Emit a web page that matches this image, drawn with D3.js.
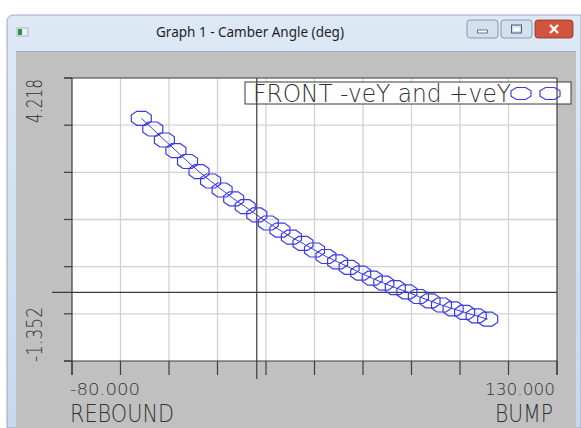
<!DOCTYPE html>
<html lang="en">
<head>
    <meta charset="UTF-8">
    <title>Graph 1 - Camber Angle (deg)</title>
    <script src="https://d3js.org/d3.v7.min.js"></script>
    <style>
        body, html {
          margin: 0;
          padding: 0;
          width: 100%;
          height: 100%;
          overflow: hidden;
          background: #fff;
        }
        svg {
          display: block;
        }
        .lbl {
          font-family: "DejaVu Sans", sans-serif;
          font-weight: 300;
          fill: #333;
        }
    </style>
</head>
<body>
<svg></svg>
<script>
    // wheel travel (mm) and camber angle (deg)
    const travel = [-50, -45, -40, -35, -30, -25, -20, -15, -10, -5, 0, 5, 10, 15, 20, 25,
                    30, 35, 40, 45, 50, 55, 60, 65, 70, 75, 80, 85, 90, 95, 100];
    const camber = [3.425, 3.214, 2.998, 2.787, 2.575, 2.374, 2.191, 2.014, 1.840, 1.685, 1.524,
                    1.365, 1.224, 1.085, 0.962, 0.833, 0.704, 0.598, 0.492, 0.378, 0.278,
                    0.180, 0.090, 0.010, -0.082, -0.168, -0.250, -0.325, -0.395, -0.462, -0.528];

    const xDomain = [-80, 130];
    const yDomain = [-1.352, 4.218];
    const xEndLabels = ["-80.000", "130.000"];
    const yEndLabels = ["4.218", "-1.352"];
    const xTitles = ["REBOUND", "BUMP"];
    const legendText = "FRONT -veY and +veY";
    const windowTitle = "Graph 1 - Camber Angle (deg)";

    const width = 581, height = 428;
    const svg = d3.select("svg").attr("width", width).attr("height", height);

    // ---- window chrome ----
    const grad = svg.append("defs").append("linearGradient")
      .attr("id", "tb").attr("x1", 0).attr("y1", 0).attr("x2", 0).attr("y2", 1);
    grad.append("stop").attr("offset", "0%").attr("stop-color", "#dde9f5");
    grad.append("stop").attr("offset", "100%").attr("stop-color", "#c6d9ee");

    svg.append("path")
      .attr("d", "M7,428 L7,22 Q7,15 14,15 L581,15 L581,428 Z")
      .attr("fill", "url(#tb)").attr("stroke", "#8a9bb0").attr("stroke-width", 0.8);
    svg.append("rect").attr("x", 16).attr("y", 52).attr("width", 560).attr("height", 376)
      .attr("fill", "#c0c0c0");
    svg.append("line").attr("x1", 16).attr("x2", 576).attr("y1", 51.5).attr("y2", 51.5)
      .attr("stroke", "#9fb2c8");

    // window icon
    svg.append("rect").attr("x", 17).attr("y", 28).attr("width", 11).attr("height", 8)
      .attr("fill", "#e9eef3").attr("stroke", "#8796a6").attr("stroke-width", 0.6);
    svg.append("rect").attr("x", 18).attr("y", 29).attr("width", 4).attr("height", 6).attr("fill", "#2f8f4a");

    svg.append("text").attr("x", 250).attr("y", 37).attr("text-anchor", "middle")
      .style("font-family", "'Noto Sans', 'Open Sans', sans-serif").style("font-size", "13.5px")
      .attr("fill", "#1e1e1e").text(windowTitle);

    const btns = [
      {x: 467, w: 31, kind: "min"},
      {x: 501, w: 31, kind: "max"},
      {x: 535, w: 38, kind: "close"}
    ];
    btns.forEach(b => {
      svg.append("rect").attr("x", b.x).attr("y", 20).attr("width", b.w).attr("height", 18)
        .attr("rx", 3)
        .attr("fill", b.kind === "close" ? "#d2543f" : "#d3e0ee")
        .attr("stroke", b.kind === "close" ? "#8a2f22" : "#7589a3").attr("stroke-width", 0.8);
      const cx = b.x + b.w / 2;
      if (b.kind === "min") {
        svg.append("rect").attr("x", cx - 5).attr("y", 30).attr("width", 10).attr("height", 3)
          .attr("fill", "#fff").attr("stroke", "#4c5d74").attr("stroke-width", 0.8);
      } else if (b.kind === "max") {
        svg.append("rect").attr("x", cx - 5).attr("y", 25).attr("width", 10).attr("height", 8)
          .attr("fill", "none").attr("stroke", "#4c5d74").attr("stroke-width", 1);
        svg.append("rect").attr("x", cx - 3).attr("y", 27.5).attr("width", 6).attr("height", 3.5)
          .attr("fill", "#fff");
      } else {
        svg.append("path").attr("d", `M${cx - 4},25 L${cx + 4},33 M${cx + 4},25 L${cx - 4},33`)
          .attr("stroke", "#fff").attr("stroke-width", 2.4);
      }
    });

    // ---- plot ----
    const x = d3.scaleLinear().domain(xDomain).range([72, 557]);
    const y = d3.scaleLinear().domain(yDomain).range([361, 78]);

    const xTicks = d3.range(xDomain[0], xDomain[1] + 0.1, (xDomain[1] - xDomain[0]) / 10);
    const yTicks = d3.range(0, 7).map(i => yDomain[0] + i * (yDomain[1] - yDomain[0]) / 6);

    svg.append("rect").attr("x", x(xDomain[0])).attr("y", y(yDomain[1]))
      .attr("width", x(xDomain[1]) - x(xDomain[0])).attr("height", y(yDomain[0]) - y(yDomain[1]))
      .attr("fill", "#fff");

    const grid = svg.append("g").attr("stroke", "#d2d2d2").attr("stroke-width", 1.3);
    grid.selectAll(".vx").data(xTicks.slice(1, -1)).enter().append("line")
      .attr("x1", d => x(d)).attr("x2", d => x(d))
      .attr("y1", y(yDomain[1])).attr("y2", y(yDomain[0]));
    grid.selectAll(".hy").data(yTicks.slice(1, -1)).enter().append("line")
      .attr("y1", d => y(d)).attr("y2", d => y(d))
      .attr("x1", x(xDomain[0])).attr("x2", x(xDomain[1]));

    // legend box (sits under the zero line)
    svg.append("rect").attr("x", 245).attr("y", 82).attr("width", 326).attr("height", 22)
      .attr("fill", "#fff").attr("stroke", "#3a3a3a").attr("stroke-width", 1);
    svg.append("text").attr("class", "lbl").attr("x", 253).attr("y", 101.5)
      .attr("textLength", 258).attr("lengthAdjust", "spacingAndGlyphs")
      .style("font-size", "24px").text(legendText);

    const ax = svg.append("g").attr("stroke", "#3c3c3c").attr("stroke-width", 1.2).attr("fill", "none");
    // frame
    ax.append("line").attr("x1", 64).attr("x2", x(xDomain[1])).attr("y1", y(yDomain[1])).attr("y2", y(yDomain[1]));
    ax.append("line").attr("x1", 64).attr("x2", x(xDomain[1])).attr("y1", y(yDomain[0])).attr("y2", y(yDomain[0]));
    ax.append("line").attr("x1", x(xDomain[0])).attr("x2", x(xDomain[0])).attr("y1", y(yDomain[1])).attr("y2", 375);
    ax.append("line").attr("x1", x(xDomain[1])).attr("x2", x(xDomain[1])).attr("y1", y(yDomain[1])).attr("y2", 375);
    // ticks
    ax.selectAll(".xt").data(xTicks).enter().append("line")
      .attr("x1", d => x(d)).attr("x2", d => x(d)).attr("y1", y(yDomain[0])).attr("y2", 375);
    ax.selectAll(".yt").data(yTicks).enter().append("line")
      .attr("y1", d => y(d)).attr("y2", d => y(d)).attr("x1", 64).attr("x2", x(xDomain[0]));
    // zero lines
    ax.append("line").attr("x1", x(0)).attr("x2", x(0)).attr("y1", y(yDomain[1])).attr("y2", 379);
    ax.append("line").attr("x1", 52).attr("x2", x(xDomain[1])).attr("y1", y(0)).attr("y2", y(0));

    // data
    const pts = travel.map((t, i) => [t, camber[i]]);
    svg.append("path").datum(pts)
      .attr("d", d3.line().x(d => x(d[0])).y(d => y(d[1])))
      .attr("fill", "none").attr("stroke", "#3b3be6").attr("stroke-width", 1);

    function octagon(cx, cy, rx, ry) {
      const p = [[-0.45 * rx, -ry], [0.45 * rx, -ry], [rx, -0.45 * ry], [rx, 0.45 * ry],
                 [0.45 * rx, ry], [-0.45 * rx, ry], [-rx, 0.45 * ry], [-rx, -0.45 * ry]];
      return p.map(q => (cx + q[0]).toFixed(1) + "," + (cy + q[1]).toFixed(1)).join(" ");
    }

    svg.append("g").selectAll("polygon").data(pts).enter().append("polygon")
      .attr("points", d => octagon(x(d[0]), y(d[1]), 10, 7))
      .attr("fill", "none").attr("stroke", "#3b3be6").attr("stroke-width", 1.2);

    [521, 550].forEach(cx => {
      svg.append("polygon").attr("points", octagon(cx, 93.5, 10, 6))
        .attr("fill", "none").attr("stroke", "#3b3be6").attr("stroke-width", 1.2);
    });

    // ---- axis labels ----
    svg.append("text").attr("class", "lbl")
      .attr("transform", `translate(42,${y(yDomain[1]) + 1}) rotate(-90)`)
      .attr("text-anchor", "end").attr("textLength", 44).attr("lengthAdjust", "spacingAndGlyphs")
      .style("font-size", "22px").text(yEndLabels[0]);
    svg.append("text").attr("class", "lbl")
      .attr("transform", `translate(42,${y(yDomain[0]) + 1}) rotate(-90)`)
      .attr("text-anchor", "start").attr("textLength", 55).attr("lengthAdjust", "spacingAndGlyphs")
      .style("font-size", "22px").text(yEndLabels[1]);

    svg.append("text").attr("class", "lbl").attr("x", 70).attr("y", 395)
      .attr("textLength", 70).attr("lengthAdjust", "spacingAndGlyphs")
      .style("font-size", "16px").text(xEndLabels[0]);
    svg.append("text").attr("class", "lbl").attr("x", 555).attr("y", 395).attr("text-anchor", "end")
      .attr("textLength", 70).attr("lengthAdjust", "spacingAndGlyphs")
      .style("font-size", "16px").text(xEndLabels[1]);

    svg.append("text").attr("class", "lbl").attr("x", 70).attr("y", 422)
      .attr("textLength", 104).attr("lengthAdjust", "spacingAndGlyphs")
      .style("font-size", "25px").text(xTitles[0]);
    svg.append("text").attr("class", "lbl").attr("x", 553).attr("y", 422).attr("text-anchor", "end")
      .attr("textLength", 58).attr("lengthAdjust", "spacingAndGlyphs")
      .style("font-size", "25px").text(xTitles[1]);
</script>
</body>
</html>
